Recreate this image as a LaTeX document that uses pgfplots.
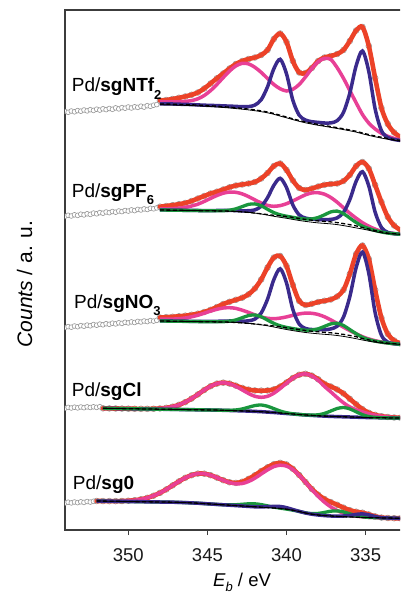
\documentclass[border=0pt]{standalone}
\usepackage{pgfplots}
\pgfplotsset{compat=1.18}
\usepackage{pgfplotstable}
\usepackage{fontspec}
\setmainfont{Liberation Sans}
\definecolor{cred}{RGB}{236,66,40}
\definecolor{cpink}{RGB}{232,64,150}
\definecolor{cblue}{RGB}{58,42,140}
\definecolor{cgreen}{RGB}{26,150,62}
\definecolor{cgray}{RGB}{150,150,150}
\definecolor{caxis}{RGB}{60,60,60}

% y values are pixel rows measured from the top of the picture
\pgfplotstableread{
x B P0 P2 R
348.0 104.0 0.2 2.0 100.5
347.6 104.1 0.2 2.1 100.0
347.2 104.2 0.2 2.3 99.0
346.8 104.4 0.2 2.6 97.8
346.4 104.6 0.2 3.2 96.5
346.0 104.8 0.2 4.2 94.8
345.6 105.1 0.2 6.3 92.5
345.2 105.4 0.2 9.9 88.5
344.8 105.8 0.4 15.2 83.5
344.4 106.2 0.6 21.8 78.3
344.0 106.7 0.8 29.1 73.5
343.6 107.2 1.1 36.2 68.5
343.2 107.8 1.4 41.9 64.0
342.8 108.4 1.7 45.1 61.0
342.4 109.1 2.5 45.2 59.0
342.0 109.9 4.8 42.6 57.5
341.6 110.9 11.2 38.5 55.0
341.2 112.0 25.2 33.5 50.0
340.8 113.5 44.8 29.0 39.0
340.4 115.3 56.0 26.5 33.5
340.0 117.0 43.1 26.0 42.0
339.6 118.8 18.5 29.5 61.0
339.2 120.5 5.3 36.0 72.5
338.8 122.0 1.9 45.1 73.0
338.4 123.3 1.6 54.7 68.0
338.0 124.5 2.1 62.7 61.0
337.6 125.5 2.5 67.2 57.5
337.2 126.6 3.7 67.1 56.0
336.8 127.7 7.0 60.0 54.0
336.4 128.8 16.4 50.5 50.0
336.0 130.0 36.9 39.5 41.0
335.6 131.3 65.6 28.5 30.5
335.2 133.0 82.0 18.5 27.0
334.8 134.6 63.1 11.5 46.0
334.4 136.0 27.1 7.0 78.0
334.0 137.3 6.6 4.0 108.0
333.6 138.5 1.0 2.2 124.0
333.2 139.5 0.0 1.1 132.5
332.8 140.5 0.0 0.5 137.0
}\tabNTf

\pgfplotstableread{
x S B P0 P2 G R
348.0 210.0 210.0 0.1 1.2 0 206.7
347.6 210.1 210.1 0.1 1.3 0 206.0
347.2 210.2 210.2 0.1 1.6 0 205.2
346.8 210.3 210.3 0.1 2.1 0 204.2
346.4 210.4 210.4 0.1 3.0 0 203.0
346.0 210.5 210.5 0.1 4.5 0 201.0
345.6 210.6 210.6 0.1 6.45 0 198.5
345.2 210.7 210.7 0.1 9.26 0 196.0
344.8 210.8 210.8 0.25 12.4 0 193.5
344.4 210.9 210.9 0.4 15.4 0.07 191.7
344.0 211.0 211.0 0.6 17.8 0.3 189.5
343.6 211.2 211.2 0.75 19.1 1.0 187.3
343.2 211.5 211.5 0.95 19.2 2.7 185.5
342.8 211.9 211.9 1.1 18.0 5.3 184.5
342.4 212.4 212.4 1.7 15.8 8.0 183.5
342.0 213.1 213.1 3.2 13.2 9.2 182.0
341.6 214.0 213.8 7.5 10.8 8.0 178.5
341.2 215.1 214.6 16.9 9.2 5.3 173.0
340.8 216.3 215.3 30.0 9.0 2.7 166.0
340.4 217.3 215.8 37.5 10.2 1.0 163.5
340.0 218.3 216.5 28.9 12.8 0.3 170.0
339.6 219.4 217.4 12.4 16.5 0.07 180.5
339.2 220.5 218.5 3.6 20.7 0.1 188.0
338.8 221.4 219.4 1.3 24.6 0.4 190.0
338.4 222.2 220.2 1.1 27.3 1.3 188.5
338.0 222.9 220.9 1.4 28.2 3.4 186.5
337.6 223.4 221.4 1.7 27.2 6.6 184.8
337.2 223.9 221.9 2.5 24.4 10.0 184.0
336.8 224.6 222.6 4.7 20.4 11.5 183.5
336.4 225.6 223.6 11.2 15.8 10.0 181.0
336.0 226.7 224.7 25.1 11.4 6.6 175.0
335.6 227.9 225.9 44.6 7.7 3.4 166.0
335.2 229.0 227.5 55.8 4.8 1.3 162.0
334.8 230.3 229.0 43.0 2.8 0.4 168.5
334.4 231.6 230.6 18.4 1.5 0.1 185.0
334.0 232.8 232.0 4.5 0.75 0 202.0
333.6 233.6 233.1 0.7 0.4 0 217.0
333.2 234.0 233.7 0 0.2 0 225.5
332.8 234.3 234.3 0 0.1 0 230.0
}\tabPF

\pgfplotstableread{
x S B P0 P2 G R
348.0 321.0 321.0 0.2 1.8 0 317.5
347.6 321.1 321.1 0.2 1.9 0 317.2
347.2 321.2 321.2 0.2 2.1 0 316.8
346.8 321.3 321.3 0.2 2.6 0 316.3
346.4 321.4 321.4 0.2 3.4 0 315.7
346.0 321.5 321.5 0.2 4.7 0 314.8
345.6 321.6 321.6 0.2 6.4 0 313.7
345.2 321.7 321.7 0.2 8.5 0 312.0
344.8 321.8 321.8 0.4 10.7 0 309.8
344.4 321.9 321.9 0.6 12.6 0.07 307.0
344.0 322.0 322.0 0.9 14.0 0.3 304.0
343.6 322.2 322.2 1.2 14.5 1.0 301.8
343.2 322.5 322.5 1.5 14.1 2.6 299.8
342.8 322.9 322.9 1.7 12.7 5.2 297.7
342.4 323.4 323.4 2.6 11.0 7.85 294.3
342.0 324.0 324.0 4.9 9.1 9.0 288.5
341.6 324.8 324.6 11.6 7.6 7.85 279.5
341.2 325.8 325.3 26.1 7.0 5.2 267.5
340.8 327.0 326.0 46.4 7.3 2.6 257.5
340.4 328.3 326.8 58.0 8.7 1.0 256.0
340.0 329.5 327.7 44.7 10.8 0.3 266.0
339.6 330.6 328.6 19.1 13.3 0.07 285.0
339.2 331.6 329.6 5.5 15.7 0.07 301.0
338.8 332.5 330.5 2.0 17.4 0.33 305.0
338.4 333.2 331.2 1.7 17.9 1.14 303.8
338.0 333.8 331.8 2.2 17.3 2.98 302.0
337.6 334.3 332.3 2.6 15.5 5.9 300.8
337.2 334.8 332.8 3.9 12.9 8.9 299.5
336.8 335.5 333.5 7.3 10.0 10.2 296.5
336.4 336.4 334.4 17.3 7.2 8.9 290.0
336.0 337.5 335.5 38.9 4.9 5.9 274.0
335.6 338.7 336.7 69.1 3.0 2.98 254.0
335.2 340.0 338.5 86.4 1.76 1.14 245.5
334.8 341.2 339.9 66.5 0.95 0.33 259.0
334.4 342.2 341.2 28.5 0.48 0.07 290.0
334.0 343.0 342.2 6.9 0.22 0 318.0
333.6 343.6 343.1 1.0 0.1 0 334.0
333.2 344.0 343.7 0 0.04 0 340.5
332.8 344.3 344.3 0 0 0 343.5
}\tabNO

\pgfplotstableread{
x B P2 G
351.6 408.3 0 0
351.2 408.4 0 0
350.8 408.5 0 0
350.4 408.6 0 0
350.0 408.7 0.01 0
349.6 408.8 0.02 0
349.2 408.9 0.06 0
348.8 409.0 0.15 0
348.4 409.1 0.34 0
348.0 409.2 0.73 0
347.6 409.3 1.46 0
347.2 409.4 2.71 0
346.8 409.5 4.66 0
346.4 409.6 7.47 0
346.0 409.7 11.1 0
345.6 409.8 15.4 0
345.2 409.9 19.9 0
344.8 410.0 23.8 0
344.4 410.1 26.5 0
344.0 410.3 27.6 0.05
343.6 410.5 26.7 0.22
343.2 410.7 24.3 0.75
342.8 410.9 21.0 1.96
342.4 411.1 17.6 3.87
342.0 411.4 15.1 5.84
341.6 411.7 14.4 6.7
341.2 412.1 15.8 5.84
340.8 412.5 19.3 3.87
340.4 413.0 24.5 1.96
340.0 413.5 30.3 0.75
339.6 414.0 35.8 0.22
339.2 414.5 39.7 0.05
338.8 415.0 41.1 0.07
338.4 415.4 39.5 0.3
338.0 415.8 35.5 1.04
337.6 416.1 29.6 2.7
337.2 416.4 24.5 5.4
336.8 416.6 19.0 8.1
336.4 416.8 14.0 9.3
336.0 417.0 10.0 8.1
335.6 417.2 7.5 5.4
335.2 417.4 5.5 2.7
334.8 417.6 3.8 1.04
334.4 417.7 2.5 0.3
334.0 417.8 1.5 0.07
333.6 417.9 0.9 0
333.2 418.0 0.5 0
332.8 418.0 0.3 0
}\tabCl

\pgfplotstableread{
x B P0 P2 G
352.0 501.0 0 0 0
351.6 501.1 0 0.04 0
351.2 501.2 0 0.09 0
350.8 501.3 0 0.19 0
350.4 501.4 0 0.39 0
350.0 501.5 0 0.76 0
349.6 501.6 0 1.39 0
349.2 501.7 0 2.42 0
348.8 501.8 0 3.98 0
348.4 501.9 0 6.2 0
348.0 502.0 0 9.1 0
347.6 502.1 0 12.7 0
347.2 502.2 0 16.8 0
346.8 502.4 0 21.0 0
346.4 502.6 0 24.8 0
346.0 502.9 0 27.7 0
345.6 503.2 0 29.6 0
345.2 503.6 0 29.9 0
344.8 504.0 0 28.8 0
344.4 504.4 0 26.8 0
344.0 504.8 0 24.5 0.1
343.6 505.2 0 22.6 0.34
343.2 505.6 0 21.8 0.88
342.8 506.0 0 22.5 1.73
342.4 506.4 0 24.9 2.6
342.0 506.8 0 28.6 3.0
341.6 507.2 0.4 33.2 2.6
341.2 507.6 0.9 37.7 1.73
340.8 508.0 1.6 41.4 0.88
340.4 508.5 2.0 43.3 0.34
340.0 509.2 1.54 43.1 0.1
339.6 510.2 0.66 40.7 0
339.2 511.5 0.16 36.3 0.04
338.8 513.0 0 30.8 0.18
338.4 514.2 0 24.6 0.62
338.0 515.0 0 18.7 1.6
337.6 515.6 0 13.4 3.18
337.2 516.0 0 9.07 4.8
336.8 516.4 0.3 5.83 5.5
336.4 516.7 0.7 3.54 4.8
336.0 517.0 1.58 2.03 3.18
335.6 517.2 2.8 1.1 1.6
335.2 517.4 3.5 0.57 0.62
334.8 517.6 2.7 0.28 0.18
334.4 517.7 1.16 0.13 0.04
334.0 517.9 0.28 0.06 0
333.6 518.0 0 0.02 0
333.2 518.2 0 0 0
332.8 518.3 0 0 0
}\tabSg

% raw data points left of the fit windows
\pgfplotstableread{
x y
354.0 111.5
353.8 112.3
353.6 111.0
353.4 111.8
353.2 110.6
353.0 111.2
352.8 110.0
352.6 110.9
352.4 109.7
352.2 110.4
352.0 109.2
351.8 110.1
351.6 108.8
351.4 109.6
351.2 108.5
351.0 109.3
350.8 107.9
350.6 108.9
350.4 107.6
350.2 108.2
350.0 107.0
349.8 108.0
349.6 106.8
349.4 107.4
349.2 106.2
349.0 107.1
348.8 105.7
348.6 106.3
348.4 105.2
348.2 104.6
}\datNTf

\pgfplotstableread{
x y
354.0 216.2
353.8 215.3
353.6 216.0
353.4 214.8
353.2 215.4
353.0 214.2
352.8 214.9
352.6 213.8
352.4 214.4
352.2 213.1
352.0 213.8
351.8 212.6
351.6 213.2
351.4 212.0
351.2 212.7
351.0 211.5
350.8 212.2
350.6 211.0
350.4 211.6
350.2 210.5
350.0 211.1
349.8 209.9
349.6 210.6
349.4 209.4
349.2 210.0
349.0 208.9
348.8 209.5
348.6 208.3
348.4 208.8
348.2 207.9
}\datPF

\pgfplotstableread{
x y
354.0 327.5
353.8 326.6
353.6 327.2
353.4 326.0
353.2 326.7
353.0 325.6
352.8 326.2
352.6 325.1
352.4 325.8
352.2 324.6
352.0 325.2
351.8 324.1
351.6 324.8
351.4 323.7
351.2 324.3
351.0 323.2
350.8 323.9
350.6 322.8
350.4 323.4
350.2 322.3
350.0 322.9
349.8 321.9
349.6 322.5
349.4 321.4
349.2 322.0
349.0 321.0
348.8 321.6
348.6 320.6
348.4 321.1
348.2 320.3
}\datNO

\pgfplotstableread{
x y
354.0 408.2
353.8 407.4
353.6 408.0
353.4 407.2
353.2 407.9
353.0 407.0
352.8 407.7
352.6 406.9
352.4 407.5
352.2 406.8
352.0 407.4
351.8 406.7
}\datCl

\pgfplotstableread{
x y
354.0 503.0
353.8 502.2
353.6 502.9
353.4 502.0
353.2 502.6
353.0 501.8
352.8 502.4
352.6 501.5
352.4 502.1
352.2 501.3
}\datSg

\newcommand{\lab}{\fontsize{19}{22}\selectfont}
\newcommand{\sub}[1]{\raisebox{-7.5pt}{\fontsize{13}{13}\selectfont\textbf{#1}}}

\begin{document}
\begin{tikzpicture}[x=1pt,y=1pt]
\useasboundingbox (0,0) rectangle (400,596);
\clip (0,0) rectangle (400,596);
\begin{axis}[
  at={(65pt,66pt)}, anchor=south west,
  scale only axis, width=340.2pt, height=520pt,
  xmin=332.5, xmax=354, ymin=0, ymax=520,
  x dir=reverse,
  axis line style={line width=1.3pt, draw=caxis},
  xtick={335,340,345,350}, ytick=\empty,
  xtick pos=left, tick align=outside,
  major tick length=5pt,
  tick style={line width=1.3pt, draw=caxis},
  /pgf/number format/assume math mode=true,
  xticklabel style={font=\fontsize{18.5}{20}\selectfont, text=black!90, yshift=-10pt},
  clip=true, clip marker paths=true,
  every axis plot/.append style={smooth, tension=0.5},
  dots/.style={only marks, mark=*, mark size=2.4pt, mark options={draw=cgray, fill=white, line width=0.6pt}},
  fdots/.style={only marks, mark=*, mark size=2.9pt, mark options={draw=cgray, fill=white, line width=0.6pt}},
  fitred/.style={cred, line width=4.6pt, line cap=round},
  fitpink/.style={cpink, line width=3.5pt},
  fitblue/.style={cblue, line width=3.5pt},
  fitgreen/.style={cgreen, line width=3.3pt},
  bgs/.style={black, line width=0.8pt},
  bgd/.style={black, line width=1.3pt, dash pattern=on 4pt off 2.5pt},
]
% ---------- Pd/sgNTf2 ----------
\addplot[dots] table[x=x, y expr=530-\thisrow{y}] {\datNTf};
\addplot[fdots] table[x=x, y expr=530-\thisrow{R}] {\tabNTf};
\addplot[fitred] table[x=x, y expr=530-\thisrow{R}] {\tabNTf};
\addplot[fitpink] table[x=x, y expr=530-\thisrow{B}+\thisrow{P2}] {\tabNTf};
\addplot[fitblue] table[x=x, y expr=530-\thisrow{B}+\thisrow{P0}] {\tabNTf};
\addplot[bgs] table[x=x, y expr=530-\thisrow{B}-0.8] {\tabNTf};
\addplot[bgd] table[x=x, y expr=530-\thisrow{B}] {\tabNTf};
% ---------- Pd/sgPF6 ----------
\addplot[dots] table[x=x, y expr=530-\thisrow{y}] {\datPF};
\addplot[fdots] table[x=x, y expr=530-\thisrow{R}] {\tabPF};
\addplot[fitred] table[x=x, y expr=530-\thisrow{R}] {\tabPF};
\addplot[fitpink] table[x=x, y expr=530-\thisrow{B}+\thisrow{P2}] {\tabPF};
\addplot[fitblue] table[x=x, y expr=530-\thisrow{B}+\thisrow{P0}] {\tabPF};
\addplot[fitgreen] table[x=x, y expr=530-\thisrow{B}+\thisrow{G}] {\tabPF};
\addplot[bgs] table[x=x, y expr=530-\thisrow{S}] {\tabPF};
\addplot[bgd] table[x=x, y expr=530-\thisrow{B}] {\tabPF};
% ---------- Pd/sgNO3 ----------
\addplot[dots] table[x=x, y expr=530-\thisrow{y}] {\datNO};
\addplot[fdots] table[x=x, y expr=530-\thisrow{R}] {\tabNO};
\addplot[fitred] table[x=x, y expr=530-\thisrow{R}] {\tabNO};
\addplot[fitpink] table[x=x, y expr=530-\thisrow{B}+\thisrow{P2}] {\tabNO};
\addplot[fitblue] table[x=x, y expr=530-\thisrow{B}+\thisrow{P0}] {\tabNO};
\addplot[fitgreen] table[x=x, y expr=530-\thisrow{B}+\thisrow{G}] {\tabNO};
\addplot[bgs] table[x=x, y expr=530-\thisrow{S}] {\tabNO};
\addplot[bgd] table[x=x, y expr=530-\thisrow{B}] {\tabNO};
% ---------- Pd/sgCl ----------
\addplot[dots] table[x=x, y expr=530-\thisrow{y}] {\datCl};
\addplot[fdots] table[x=x, y expr=530-\thisrow{B}+\thisrow{P2}+\thisrow{G}] {\tabCl};
\addplot[fitred] table[x=x, y expr=530-\thisrow{B}+\thisrow{P2}+\thisrow{G}] {\tabCl};
\addplot[fitpink] table[x=x, y expr=530-\thisrow{B}+\thisrow{P2}] {\tabCl};
\addplot[fitblue] table[x=x, y expr=530-\thisrow{B}] {\tabCl};
\addplot[fitgreen] table[x=x, y expr=530-\thisrow{B}+\thisrow{G}] {\tabCl};
\addplot[bgs] table[x=x, y expr=530-\thisrow{B}] {\tabCl};
\addplot[bgd] table[x=x, y expr=530-\thisrow{B}] {\tabCl};
% ---------- Pd/sg0 ----------
\addplot[dots] table[x=x, y expr=530-\thisrow{y}] {\datSg};
\addplot[fdots] table[x=x, y expr=530-\thisrow{B}+\thisrow{P0}+\thisrow{P2}+\thisrow{G}] {\tabSg};
\addplot[fitred] table[x=x, y expr=530-\thisrow{B}+\thisrow{P0}+\thisrow{P2}+\thisrow{G}] {\tabSg};
\addplot[fitpink] table[x=x, y expr=530-\thisrow{B}+\thisrow{P2}] {\tabSg};
\addplot[fitgreen] table[x=x, y expr=530-\thisrow{B}+\thisrow{G}] {\tabSg};
\addplot[fitblue] table[x=x, y expr=530-\thisrow{B}+\thisrow{P0}] {\tabSg};
\addplot[bgs] table[x=x, y expr=530-\thisrow{B}] {\tabSg};
\addplot[bgd] table[x=x, y expr=530-\thisrow{B}] {\tabSg};
% ---------- labels ----------
\node[anchor=base west, inner sep=0, font=\lab] at (axis cs:353.58,438.3) {Pd/\textbf{sgNTf}\sub{2}};
\node[anchor=base west, inner sep=0, font=\lab] at (axis cs:353.58,332.7) {Pd/\textbf{sgPF}\sub{6}};
\node[anchor=base west, inner sep=0, font=\lab] at (axis cs:353.43,221.7) {Pd/\textbf{sgNO}\sub{3}};
\node[anchor=base west, inner sep=0, font=\lab] at (axis cs:353.58,133.3) {Pd/\textbf{sgCl}};
\node[anchor=base west, inner sep=0, font=\lab] at (axis cs:353.51,40) {Pd/\textbf{sg0}};
\end{axis}
\node[rotate=90, anchor=base, inner sep=0, font=\fontsize{21}{21}\selectfont] at (32,312) {\textit{Counts} / a. u.};
\node[anchor=base, inner sep=0, font=\fontsize{18.5}{20}\selectfont] at (242,9.3) {\textit{E}\raisebox{-5pt}{\fontsize{13}{13}\selectfont\textit{b}} / eV};
\end{tikzpicture}
\end{document}
